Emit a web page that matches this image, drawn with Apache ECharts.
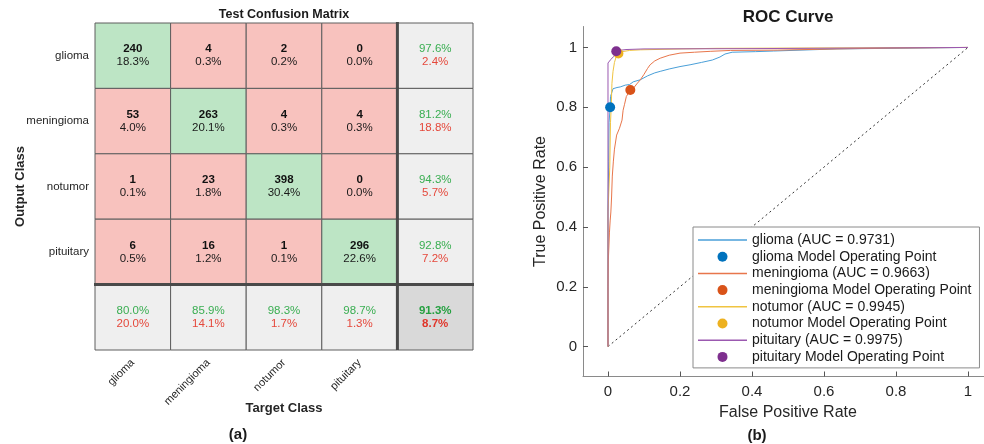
<!DOCTYPE html>
<html>
<head>
<meta charset="utf-8">
<script src="https://cdn.jsdelivr.net/npm/echarts@6/dist/echarts.min.js"></script>
<style>
  html, body { margin: 0; padding: 0; background: #fff; }
  #chart { width: 984px; height: 444px; }
</style>
</head>
<body>
<div id="chart"></div>
<script>
// ---- data ----
const classes = ['glioma', 'meningioma', 'notumor', 'pituitary'];
// rows = output (predicted) class, columns = target (true) class
const counts = [
  [240, 4, 2, 0],
  [53, 263, 4, 4],
  [1, 23, 398, 0],
  [6, 16, 1, 296]
];
const aucValues = [0.9731, 0.9663, 0.9945, 0.9975];
const operatingPoints = [[0.006, 0.80], [0.062, 0.858], [0.029, 0.98], [0.023, 0.987]];

const gliomaRoc = [[0,0],[0,0.45],[0.002,0.62],[0.003,0.75],[0.006,0.80],[0.007,0.836],[0.012,0.84],[0.014,0.862],
  [0.025,0.866],[0.034,0.868],[0.048,0.874],[0.06,0.876],[0.07,0.885],[0.09,0.892],[0.11,0.905],[0.13,0.915],
  [0.145,0.92],[0.17,0.928],[0.2,0.936],[0.228,0.942],[0.26,0.95],[0.29,0.958],[0.311,0.968],[0.325,0.978],
  [0.345,0.984],[0.41,0.986],[0.46,0.988],[0.46,0.994],[0.636,0.995],[0.636,1],[1,1]];
const meningiomaRoc = [[0,0],[0,0.2],[0.001,0.29],[0.004,0.38],[0.006,0.42],[0.008,0.45],[0.01,0.5],[0.012,0.57],
  [0.015,0.62],[0.018,0.66],[0.024,0.707],[0.032,0.73],[0.039,0.757],[0.042,0.79],[0.046,0.81],[0.051,0.836],
  [0.062,0.858],[0.071,0.864],[0.08,0.878],[0.09,0.892],[0.1,0.91],[0.11,0.93],[0.117,0.942],[0.13,0.955],
  [0.145,0.964],[0.17,0.974],[0.2,0.981],[0.24,0.984],[0.284,0.987],[0.34,0.99],[0.47,0.991],[0.47,0.994],
  [0.636,0.995],[0.636,0.998],[0.78,0.998],[0.78,1],[1,1]];
const notumorRoc = [[0,0],[0,0.45],[0.005,0.6],[0.007,0.75],[0.009,0.8],[0.011,0.88],[0.014,0.92],[0.018,0.95],
  [0.023,0.97],[0.029,0.98],[0.04,0.986],[0.06,0.99],[0.09,0.992],[0.2,0.995],[0.3,0.997],[0.3,1],[1,1]];
const pituitaryRoc = [[0,0],[0,0.948],[0.008,0.96],[0.016,0.97],[0.02,0.98],[0.023,0.987],[0.03,0.99],
  [0.05,0.993],[0.1,0.995],[0.4,0.996],[0.4,1],[1,1]];
const chanceLine = [[0, 0], [1, 1]];

const rocCurves = [gliomaRoc, meningiomaRoc, notumorRoc, pituitaryRoc];
const lineColors = ['#4a9fd8', '#e8764b', '#f0c441', '#9b59b0'];
const pointColors = ['#0072bd', '#d95319', '#edb120', '#7e2f8e'];
const rocTicks = [0, 0.2, 0.4, 0.6, 0.8, 1];

// ---- confusion matrix cells ----
const FONT = '"Liberation Sans", Arial, sans-serif';
const GREEN_TXT = '#3aae52', RED_TXT = '#e5483b';
const total = counts.flat().reduce((a, b) => a + b, 0);
const pct = (v, d) => (100 * v / d).toFixed(1) + '%';
const cells = [];
const cellData = [];
function addCell(c, r, info) {
  info.col = c; info.row = r;
  cellData.push([c, r, cells.length]);
  cells.push(info);
}
for (let r = 0; r < 4; r++) {
  for (let c = 0; c < 4; c++) {
    addCell(c, r, {
      fill: r === c ? '#bde5c5' : '#f8c2be',
      text: '{b|' + counts[r][c] + '}\n{n|' + pct(counts[r][c], total) + '}'
    });
  }
}
for (let r = 0; r < 4; r++) {
  const rowSum = counts[r].reduce((a, b) => a + b, 0);
  addCell(4, r, {
    fill: '#efefef',
    text: '{g|' + pct(counts[r][r], rowSum) + '}\n{e|' + pct(rowSum - counts[r][r], rowSum) + '}'
  });
}
for (let c = 0; c < 4; c++) {
  let colSum = 0;
  for (let r = 0; r < 4; r++) colSum += counts[r][c];
  addCell(c, 4, {
    fill: '#efefef',
    text: '{g|' + pct(counts[c][c], colSum) + '}\n{e|' + pct(colSum - counts[c][c], colSum) + '}'
  });
}
let correct = 0;
for (let i = 0; i < 4; i++) correct += counts[i][i];
addCell(4, 4, {
  fill: '#d9d9d9',
  text: '{gb|' + pct(correct, total) + '}\n{eb|' + pct(total - correct, total) + '}'
});

const richCell = {
  b: { fontFamily: FONT, fontSize: 11.5, fontWeight: 'bold', fill: '#111', lineHeight: 13 },
  n: { fontFamily: FONT, fontSize: 11.5, fill: '#1a1a1a', lineHeight: 13 },
  g: { fontFamily: FONT, fontSize: 11.5, fill: GREEN_TXT, lineHeight: 13 },
  e: { fontFamily: FONT, fontSize: 11.5, fill: RED_TXT, lineHeight: 13 },
  gb: { fontFamily: FONT, fontSize: 11.5, fontWeight: 'bold', fill: '#25a040', lineHeight: 13 },
  eb: { fontFamily: FONT, fontSize: 11.5, fontWeight: 'bold', fill: '#e0352a', lineHeight: 13 }
};

function renderCell(params, api) {
  const info = cells[api.value(2)];
  const p = api.coord([api.value(0), api.value(1)]);
  const s = api.size([1, 1]);
  const x0 = p[0] - s[0] / 2, y0 = p[1] - s[1] / 2;
  const children = [
    { type: 'rect', shape: { x: x0, y: y0, width: s[0], height: s[1] },
      style: { fill: info.fill, stroke: '#5e5e5e', lineWidth: 1 } },
    { type: 'text', style: { x: p[0], y: p[1], text: info.text, rich: richCell,
      align: 'center', verticalAlign: 'middle' } }
  ];
  if (info.col === 4) {
    children.push({ type: 'line', shape: { x1: x0, y1: y0 - 1, x2: x0, y2: y0 + s[1] },
      style: { stroke: '#4a4a4a', lineWidth: 3 } });
  }
  if (info.row === 4) {
    children.push({ type: 'line', shape: { x1: x0 - 1, y1: y0, x2: x0 + s[0] + 1, y2: y0 },
      style: { stroke: '#4a4a4a', lineWidth: 3 } });
  }
  return { type: 'group', children };
}

// ---- ROC series ----
const LINE_ICON = 'path://M0 0H98V3H0Z';
const rocSeries = [];
const legendItems = [];
classes.forEach((name, i) => {
  const lineName = name + ' (AUC = ' + aucValues[i].toFixed(4) + ')';
  const pointName = name + ' Model Operating Point';
  legendItems.push({ name: lineName, icon: LINE_ICON }, { name: pointName, icon: 'circle' });
  rocSeries.push({
    name: lineName, type: 'line', xAxisIndex: 1, yAxisIndex: 1,
    data: rocCurves[i], symbol: 'none', silent: true, z: 3 + i,
    lineStyle: { color: lineColors[i], width: 1 }, itemStyle: { color: lineColors[i] }
  });
});
classes.forEach((name, i) => {
  rocSeries.push({
    name: name + ' Model Operating Point', type: 'scatter', xAxisIndex: 1, yAxisIndex: 1,
    data: [operatingPoints[i]], symbol: 'circle', symbolSize: 10, z: 10 + i,
    itemStyle: { color: pointColors[i], opacity: 1 }
  });
});
rocSeries.push({
  name: 'chance', type: 'line', xAxisIndex: 1, yAxisIndex: 1, data: chanceLine,
  symbol: 'none', silent: true, z: 2,
  lineStyle: { color: '#333', width: 1, type: [2, 3] }
});

const chart = echarts.init(document.getElementById('chart'), null, { renderer: 'canvas' });
chart.setOption({
  animation: false,
  backgroundColor: '#ffffff',
  textStyle: { fontFamily: FONT },
  grid: [
    { left: 95, top: 23, width: 378, height: 327 },
    { left: 583, top: 26.5, right: 0, height: 350 }
  ],
  xAxis: [
    {
      gridIndex: 0, type: 'category', data: classes.concat(['']),
      axisLine: { show: false }, axisTick: { show: false }, splitLine: { show: false },
      axisLabel: { rotate: 45, fontSize: 11, color: '#262626', margin: 11, fontFamily: FONT },
      name: 'Target Class', nameLocation: 'middle', nameGap: 52, nameMoveOverlap: false,
      nameTextStyle: { fontSize: 13, fontWeight: 'bold', color: '#262626', fontFamily: FONT }
    },
    {
      gridIndex: 1, type: 'value', min: -0.0694, max: 1.0444,
      axisLine: { show: true, onZero: false, lineStyle: { color: '#8a8a8a', width: 1 } },
      axisTick: { show: true, inside: true, length: 5, customValues: rocTicks, lineStyle: { color: '#555' } },
      axisLabel: { customValues: rocTicks, fontSize: 15, color: '#262626', margin: 8, fontFamily: FONT,
        formatter: v => String(Math.round(v * 10) / 10) },
      splitLine: { show: false },
      name: 'False Positive Rate', nameLocation: 'middle', nameGap: 26,
      nameTextStyle: { fontSize: 16, color: '#262626', fontFamily: FONT, padding: [0, 0, 0, 9] }
    }
  ],
  yAxis: [
    {
      gridIndex: 0, type: 'category', inverse: true, data: classes.concat(['']),
      axisLine: { show: false }, axisTick: { show: false }, splitLine: { show: false },
      axisLabel: { fontSize: 11.5, color: '#262626', margin: 6, fontFamily: FONT },
      name: 'Output Class', nameLocation: 'middle', nameGap: 68, nameMoveOverlap: false,
      nameTextStyle: { fontSize: 13, fontWeight: 'bold', color: '#262626', fontFamily: FONT }
    },
    {
      gridIndex: 1, type: 'value', min: -0.1, max: 1.07,
      axisLine: { show: true, onZero: false, lineStyle: { color: '#8a8a8a', width: 1 } },
      axisTick: { show: true, inside: true, length: 5, customValues: rocTicks, lineStyle: { color: '#555' } },
      axisLabel: { customValues: rocTicks, fontSize: 15, color: '#262626', margin: 6, fontFamily: FONT,
        formatter: v => String(Math.round(v * 10) / 10) },
      splitLine: { show: false },
      name: 'True Positive Rate', nameLocation: 'middle', nameGap: 34,
      nameTextStyle: { fontSize: 16, color: '#262626', fontFamily: FONT }
    }
  ],
  legend: {
    data: legendItems, orient: 'vertical', left: 693, top: 227,
    itemWidth: 49, itemHeight: 10, itemGap: 2.7, padding: [6, 8, 4, 5],
    backgroundColor: '#ffffff', borderColor: '#8a8a8a', borderWidth: 1, borderRadius: 0,
    textStyle: { fontSize: 14, color: '#1a1a1a', fontFamily: FONT },
    selectedMode: false
  },
  graphic: [
    { type: 'text', x: 284, y: 15, style: { text: 'Test Confusion Matrix', align: 'center',
      verticalAlign: 'middle', font: 'bold 12.5px ' + FONT, fill: '#1a1a1a' } },
    { type: 'text', x: 788, y: 17, style: { text: 'ROC Curve', align: 'center',
      verticalAlign: 'middle', font: 'bold 17px ' + FONT, fill: '#1a1a1a' } },
    { type: 'text', x: 238, y: 435, style: { text: '(a)', align: 'center',
      verticalAlign: 'middle', font: 'bold 15px ' + FONT, fill: '#1a1a1a' } },
    { type: 'text', x: 757, y: 436, style: { text: '(b)', align: 'center',
      verticalAlign: 'middle', font: 'bold 15px ' + FONT, fill: '#1a1a1a' } }
  ],
  series: [
    {
      type: 'custom', xAxisIndex: 0, yAxisIndex: 0, data: cellData,
      renderItem: renderCell, silent: true, clip: false
    }
  ].concat(rocSeries)
});
</script>
</body>
</html>
